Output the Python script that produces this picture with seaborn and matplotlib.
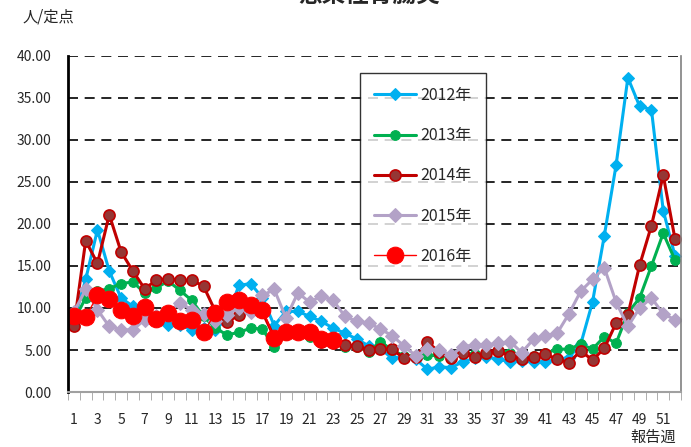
import matplotlib
matplotlib.use('Agg')
import matplotlib.pyplot as plt
import numpy as np
import pandas as pd
import seaborn as sns
from matplotlib.ticker import FixedLocator, FormatStrFormatter

weeks = list(range(1, 53))

y2012 = [8.5, 13.4, 19.3, 14.4, 11.2, 10.2, 9.6, 8.5, 8.0, 8.0, 7.4, 7.6, 7.4, 8.8,
         12.7, 12.9, 11.2, 7.9, 9.6, 9.6, 9.0, 8.4, 7.6, 7.0, 6.3, 5.5, 5.2, 4.0,
         4.2, 3.9, 2.7, 3.0, 2.9, 3.6, 4.0, 4.2, 3.9, 3.6, 3.7, 3.6, 3.6, 3.9,
         4.1, 5.7, 10.7, 18.6, 27.0, 37.4, 34.0, 33.6, 21.6, 16.2]
y2013 = [8.5, 11.2, 12.0, 12.3, 12.9, 13.1, 11.8, 12.4, 13.2, 12.1, 10.9, 9.0, 7.6, 6.8,
         7.1, 7.6, 7.5, 5.3, 6.8, 6.9, 6.6, 6.0, 5.8, 5.3, 5.4, 4.8, 6.0, 5.0,
         4.3, 4.3, 4.4, 4.3, 4.3, 4.7, 4.5, 4.5, 5.0, 4.7, 4.2, 4.3, 4.6, 5.1,
         5.1, 5.7, 5.1, 6.6, 5.8, 9.4, 11.2, 15.0, 18.9, 15.7]
y2014 = [7.8, 18.0, 15.3, 21.1, 16.7, 14.4, 12.3, 13.3, 13.5, 13.3, 13.3, 12.6, 9.6, 8.3,
         9.2, 10.0, 9.5, 6.5, 7.0, 7.0, 7.0, 6.0, 5.8, 5.6, 5.5, 5.0, 5.1, 5.1,
         4.0, 4.2, 5.9, 4.8, 4.0, 4.6, 4.2, 4.7, 4.9, 4.3, 3.9, 4.2, 4.5, 3.9,
         3.5, 4.9, 3.8, 5.2, 8.2, 9.2, 15.1, 19.8, 25.8, 18.2]
y2015 = [9.5, 12.2, 9.8, 7.8, 7.4, 7.4, 8.6, 9.0, 9.5, 10.6, 9.8, 9.3, 8.5, 9.2,
         10.0, 9.5, 11.5, 12.2, 8.8, 11.8, 10.7, 11.4, 10.9, 9.0, 8.4, 8.2, 7.5, 6.7,
         5.5, 4.3, 5.1, 5.0, 4.4, 5.4, 5.6, 5.6, 5.8, 6.0, 4.7, 6.3, 6.7, 7.0,
         9.3, 12.0, 13.4, 14.8, 10.7, 7.8, 10.0, 11.2, 9.3, 8.6]
y2016 = [9.0, 8.9, 11.5, 11.1, 9.8, 9.0, 10.1, 8.7, 9.4, 8.5, 8.6, 7.1, 9.4, 10.7,
         11.0, 10.3, 9.8, 6.4, 7.1, 7.2, 7.2, 6.3, 6.2]

years = ['2012年', '2013年', '2014年', '2015年', '2016年']
series = [y2012, y2013, y2014, y2015, y2016]

rows = []
for yr, vals in zip(years, series):
    for w, v in zip(weeks, vals):
        rows.append({'year': yr, 'week': w, 'value': v})
df = pd.DataFrame(rows)

sns.set_style('white')
plt.rcParams['font.family'] = ['Noto Sans CJK JP', 'DejaVu Sans']

styles = {
    '2012年': dict(color='#00B0F0', marker='D', markersize=6, lw=2.2,
                   markerfacecolor='#00B0F0', markeredgecolor='#00B0F0'),
    '2013年': dict(color='#00B050', marker='o', markersize=7, lw=2.2,
                   markerfacecolor='#00B050', markeredgecolor='#00B050'),
    '2014年': dict(color='#C00000', marker='o', markersize=8, lw=2.2,
                   markerfacecolor='#953735', markeredgecolor='#C00000', markeredgewidth=1.2),
    '2015年': dict(color='#B3A2C7', marker='D', markersize=7, lw=2.2,
                   markerfacecolor='#B3A2C7', markeredgecolor='#B3A2C7'),
    '2016年': dict(color='#FF0000', marker='o', markersize=12, lw=1,
                   markerfacecolor='#FF0000', markeredgecolor='#FF0000'),
}

fig = plt.figure(figsize=(6.91, 4.47), dpi=100)
ax = fig.add_axes([0.0984, 0.123, 0.887, 0.752])

for yr in years:
    sub = df[df.year == yr]
    sns.lineplot(data=sub, x='week', y='value', ax=ax, label=yr, **styles[yr])

ax.set_xlim(0.5, 52.5)
ax.set_ylim(0, 40)
ax.set_yticks(np.arange(0, 41, 5))
ax.yaxis.set_major_formatter(FormatStrFormatter('%.2f'))
ax.set_xticks(range(1, 52, 2))
ax.set_xticklabels([str(i) for i in range(1, 52, 2)])
ax.xaxis.set_minor_locator(FixedLocator(np.arange(0.5, 53, 1)))
ax.tick_params(axis='x', which='major', length=0, pad=15, labelsize=10)
ax.tick_params(axis='x', which='minor', length=6, color='#A0A0A0', direction='out', bottom=True)
ax.tick_params(axis='y', length=0, pad=12, labelsize=10)

for v in range(5, 41, 5):
    ax.axhline(v, color='black', lw=1.2, ls=(0, (6, 4)), zorder=0)

ax.spines['top'].set_visible(False)
ax.spines['left'].set_color('black')
ax.spines['left'].set_linewidth(2)
ax.spines['bottom'].set_color('#A0A0A0')
ax.spines['bottom'].set_linewidth(1.5)
ax.spines['right'].set_color('#808080')
ax.spines['right'].set_linewidth(1.2)
ax.set_xlabel('')
ax.set_ylabel('')

leg = ax.legend(loc='upper left', bbox_to_anchor=(0.476, 0.95), frameon=True, fancybox=False,
                edgecolor='black', fontsize=11.5, labelspacing=1.45, handlelength=2.6,
                borderpad=0.9, handletextpad=0.3, borderaxespad=0)
leg.get_frame().set_linewidth(1)

fig.text(0.032, 0.962, '人/定点', fontsize=11, ha='left', va='center')
fig.text(0.978, 0.022, '報告週', fontsize=11, ha='right', va='center')
fig.text(0.535, 0.985, '感染性胃腸炎', fontsize=17, fontweight='bold', ha='center', va='bottom')

fig.savefig('out.png', dpi=100)
